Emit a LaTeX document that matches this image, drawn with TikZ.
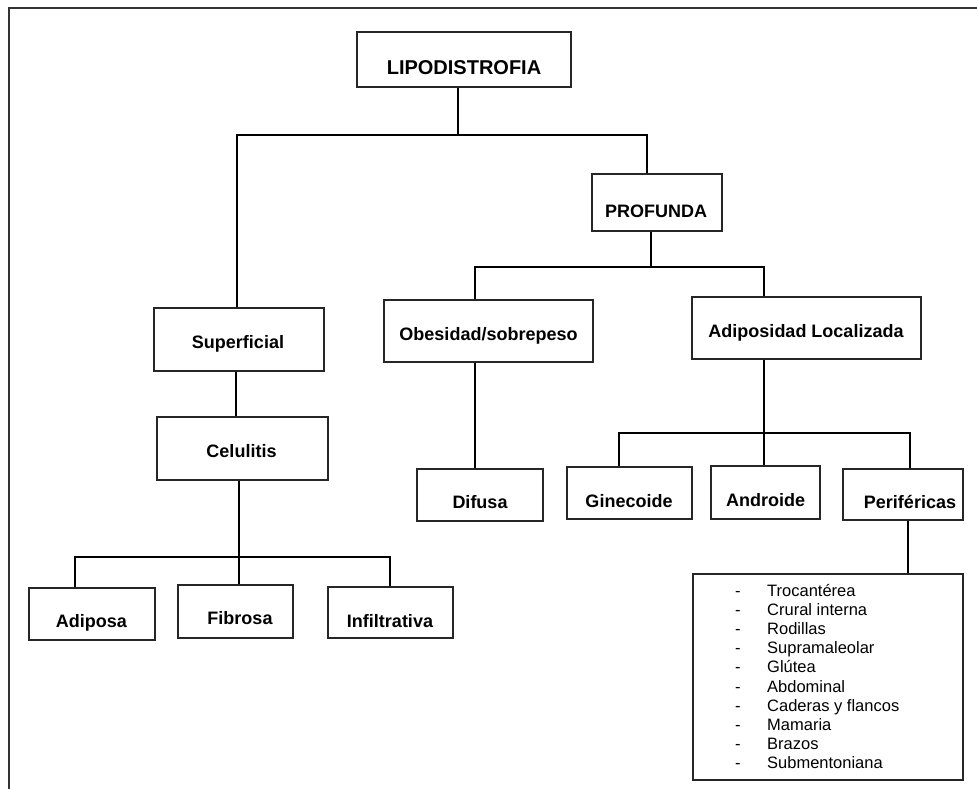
\documentclass[tikz,border=0pt]{standalone}
\usepackage{fontspec}
\setmainfont{Liberation Sans}
\begin{document}
\begin{tikzpicture}[x=1pt,y=-1pt,
  box/.style={draw=black!85, line width=1.2pt, rectangle, inner sep=0pt},
  lbl/.style={font=\fontsize{18}{21}\selectfont\bfseries, inner sep=0pt, anchor=base},
  conn/.style={draw=black, line width=1.8pt},
  frameline/.style={draw=black!80, line width=2.4pt}]
\useasboundingbox (0,0) rectangle (977,789);
\draw[frameline] (9,789) -- (9,8) -- (977,8);

% boxes
\node[box, minimum width=214pt, minimum height=55pt] (lipo) at (464,59.5) {};
\node[box, minimum width=130pt, minimum height=57pt] (prof) at (657,202.5) {};
\node[box, minimum width=170pt, minimum height=63pt] (sup) at (239,339.5) {};
\node[box, minimum width=171pt, minimum height=63pt] (cel) at (242.5,448.5) {};
\node[box, minimum width=209pt, minimum height=62pt] (obe) at (488.5,331) {};
\node[box, minimum width=229pt, minimum height=62pt] (adl) at (806.5,328) {};
\node[box, minimum width=126pt, minimum height=52pt] (dif) at (480,495) {};
\node[box, minimum width=125pt, minimum height=52pt] (gin) at (629.5,493) {};
\node[box, minimum width=109pt, minimum height=53pt] (andr) at (765.5,492.5) {};
\node[box, minimum width=120pt, minimum height=51pt] (per) at (903,494.5) {};
\node[box, minimum width=270pt, minimum height=206pt] (list) at (828,677) {};
\node[box, minimum width=126pt, minimum height=52pt] (adi) at (92,614) {};
\node[box, minimum width=115pt, minimum height=53pt] (fib) at (235.5,611.5) {};
\node[box, minimum width=125pt, minimum height=51pt] (inf) at (390.5,612.5) {};

% labels
\node[lbl, font=\fontsize{20}{24}\selectfont\bfseries] (lipot) at (464,75) {LIPODISTROFIA};
\node[lbl] (proft) at (656,217) {PROFUNDA};
\node[lbl] (supt) at (238,348) {Superficial};
\node[lbl] (celt) at (241.5,457) {Celulitis};
\node[lbl] (obet) at (488.5,340) {Obesidad/sobrepeso};
\node[lbl] (adlt) at (806,337) {Adiposidad Localizada};
\node[lbl] (dift) at (480,508) {Difusa};
\node[lbl] (gint) at (629,507) {Ginecoide};
\node[lbl] (andt) at (765.5,506) {Androide};
\node[lbl] (pert) at (910,508) {Periféricas};
\node[lbl] (adit) at (91.5,627) {Adiposa};
\node[lbl] (fibt) at (240,624) {Fibrosa};
\node[lbl] (inft) at (390,627) {Infiltrativa};

\node[anchor=base west, inner sep=0pt, font=\fontsize{16.5}{19.2}\selectfont] (items) at (735,596) {%
\begin{tabular}[t]{@{}l@{}}
\makebox[32pt][l]{-}Trocantérea\\
\makebox[32pt][l]{-}Crural interna\\
\makebox[32pt][l]{-}Rodillas\\
\makebox[32pt][l]{-}Supramaleolar\\
\makebox[32pt][l]{-}Glútea\\
\makebox[32pt][l]{-}Abdominal\\
\makebox[32pt][l]{-}Caderas y flancos\\
\makebox[32pt][l]{-}Mamaria\\
\makebox[32pt][l]{-}Brazos\\
\makebox[32pt][l]{-}Submentoniana
\end{tabular}};

% connectors
\coordinate (a1) at (458,135);
\coordinate (tl) at (237,135);
\coordinate (tr) at (647,135);
\draw[conn] (a1 |- lipo.south) -- (a1);
\draw[conn] (tl |- sup.north) -- (tl) -- (tr) -- (tr |- prof.north);

\coordinate (p1) at (651,267);
\coordinate (pl) at (475,267);
\coordinate (pr) at (764,267);
\draw[conn] (p1 |- prof.south) -- (p1);
\draw[conn] (pl |- obe.north) -- (pl) -- (pr) -- (pr |- adl.north);
\draw[conn] (pl |- obe.south) -- (pl |- dif.north);

\coordinate (sc) at (236,0);
\draw[conn] (sc |- sup.south) -- (sc |- cel.north);

\coordinate (cl) at (75,557);
\coordinate (cm) at (239,557);
\coordinate (cr) at (390,557);
\draw[conn] (cm |- cel.south) -- (cm |- fib.north);
\draw[conn] (cl |- adi.north) -- (cl) -- (cr) -- (cr |- inf.north);

\coordinate (al) at (619,433);
\coordinate (am) at (764,433);
\coordinate (ar) at (910,433);
\draw[conn] (am |- adl.south) -- (am |- andr.north);
\draw[conn] (al |- gin.north) -- (al) -- (ar) -- (ar |- per.north);

\coordinate (pd) at (908,0);
\draw[conn] (pd |- per.south) -- (pd |- list.north);
\end{tikzpicture}
\end{document}
